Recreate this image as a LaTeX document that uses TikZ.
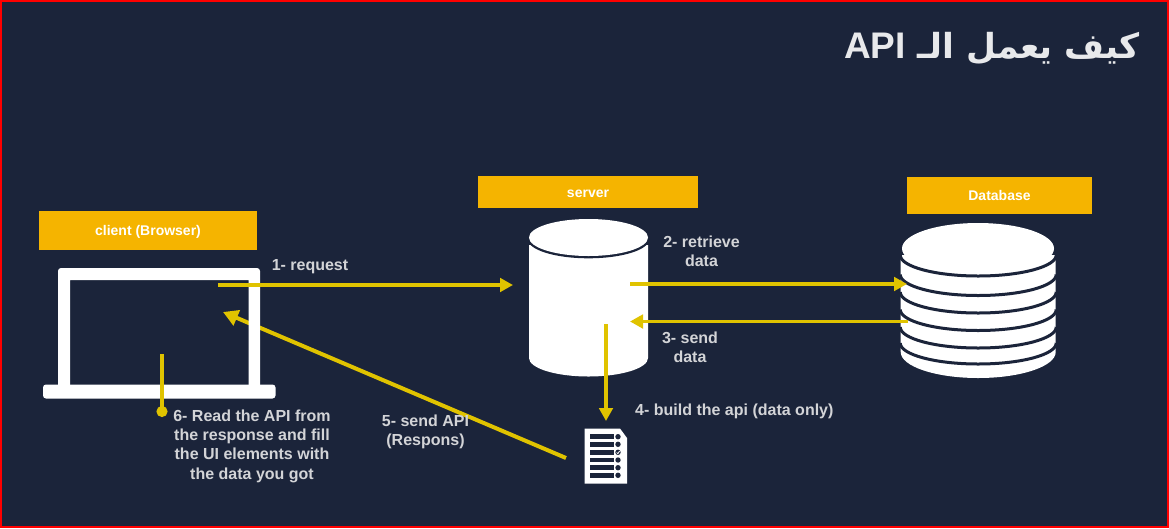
\documentclass[tikz,border=0pt]{standalone}
\usepackage{fontspec}
\setmainfont{Liberation Sans}
\newfontfamily\arabicfont[Script=Arabic]{DejaVu Sans}
\newfontfamily\latinfont{Liberation Sans}
\TeXXeTstate=1
\usetikzlibrary{arrows.meta}
\definecolor{bg}{HTML}{1B243A}
\definecolor{gold}{HTML}{F5B400}
\definecolor{flow}{HTML}{E0C300}
\definecolor{lbl}{HTML}{D3D4D7}
\newcommand{\tagtext}[1]{\raisebox{-5pt}[0pt][0pt]{#1}}
\tikzset{
  tag/.style={fill=gold,text=white,font=\bfseries\fontsize{14}{16}\selectfont,inner sep=0pt,anchor=center},
  lab/.style={text=lbl,font=\bfseries\fontsize{16}{19.3}\selectfont,align=center,inner sep=0pt},
  flowline/.style={draw=flow,line width=3.4pt,-{Triangle[length=13pt,width=13.5pt]}},
  flowlarge/.style={draw=flow,line width=4pt,-{Triangle[length=15pt,width=16pt]}},
  band/.style={draw=bg,line width=3pt}
}
\begin{document}
\begin{tikzpicture}[x=1pt,y=-1pt]
\useasboundingbox (0,0) rectangle (1169,528);
\fill[bg] (0,0) rectangle (1169,528);
\draw[red,line width=2pt] (1,1) rectangle (1168,527);
% title
\node[text=white!90!bg,font=\bfseries\fontsize{34.5}{40}\selectfont,inner sep=0pt] (title) at (992,49)
  {\arabicfont\beginR كيف يعمل الـ \beginL{\latinfont\bfseries\fontsize{37}{40}\selectfont API}\endL\endR};
% tags
\node[tag,minimum width=218pt,minimum height=39pt] (client) at (148,230) {\tagtext{client (Browser)}};
\node[tag,minimum width=220pt,minimum height=32pt] (server) at (588,192) {\tagtext{server}};
\node[tag,minimum width=185pt,minimum height=37pt] (database) at (999.5,195.5) {\tagtext{Database}};
% server cylinder
\fill[white] (529,245) -- (529,358) arc[start angle=180,end angle=0,x radius=59.5,y radius=18.5] -- (648,245) -- cycle;
\fill[bg] (588.5,239.5) ellipse[x radius=60.5,y radius=18.8];
\fill[white] (588.5,237.5) ellipse[x radius=59.5,y radius=18.5];
% database
\fill[white] (900.7,255) -- (900.7,352) arc[start angle=180,end angle=0,x radius=77.5,y radius=26] -- (1055.7,255) -- cycle;
\foreach \yy in {255,274.5,292,309.5,327,343}{
  \draw[band] (900.2,\yy) arc[start angle=180,end angle=0,x radius=78,y radius=21];
}
\fill[white] (978,248.5) ellipse[x radius=76,y radius=25.5];
\coordinate (lapA) at (218,285);
\coordinate (srvIn) at (513,285);
\coordinate (srvOut) at (630,284);
\coordinate (dbIn) at (907,284);
\coordinate (dbOut) at (908,321.5);
\coordinate (srvBack) at (630,321.5);
\coordinate (srvDown) at (606,324);
\coordinate (docTop) at (606,421);
\coordinate (docOut) at (566,458);
\coordinate (lapB) at (223,312);
\coordinate (dotTop) at (162,354);
\coordinate (dot) at (162,411.5);
% document
\fill[white] (584.5,428.5) -- (620,428.5) -- (627,438) -- (627,483.5) -- (584.5,483.5) -- cycle;
\foreach \yy in {436.7,444.3,452.3,467.7,475.3,460}{
  \fill[bg] (590,\yy-2.3) rectangle (613.5,\yy+2.3);
  \fill[bg] (618,\yy) circle (2.7);
}
\draw[white,line width=0.8pt] (616.6,452.5) -- (617.8,453.7) -- (619.6,451);
% connectors
\draw[flowlarge] (docOut) -- (lapB);
% laptop
\fill[white,even odd rule,rounded corners=3pt] (58,390) -- (58,268) -- (260,268) -- (260,390) -- cycle [sharp corners] (70,280) rectangle (248.5,390);
\fill[white,rounded corners=3pt] (43,384.5) rectangle (275.5,398.5);
\draw[flowline] (lapA) -- (srvIn);
\draw[flowline] (srvOut) -- (dbIn);
\draw[flowline] (dbOut) -- (srvBack);
\draw[flowline] (srvDown) -- (docTop);
\draw[draw=flow,line width=3.4pt] (dotTop) -- (dot);
\fill[flow] (dot) circle (5.6);
% labels
\node[lab] (l1) at (310,267) {1- request};
\node[lab] (l2) at (701.5,251) {2- retrieve\\data};
\node[lab] (l3) at (690,347.5) {3- send\\data};
\node[lab,anchor=west] (l4) at (635,411) {4- build the api (data only)};
\node[lab] (l5) at (425.5,432) {5- send API\\(Respons)};
\node[lab] (l6) at (252,446) {6- Read the API from\\the response and fill\\the UI elements with\\the data you got};
\end{tikzpicture}
\end{document}
